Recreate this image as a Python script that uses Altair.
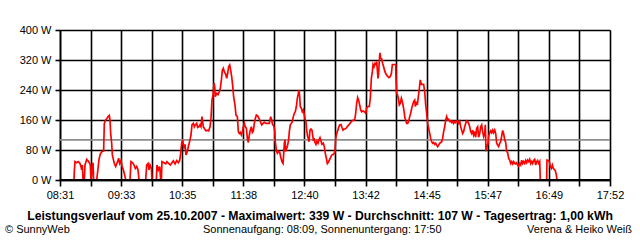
import altair as alt
import pandas as pd

# time of day in minutes since midnight, and power in W
minutes = [
    525.3, 525.6, 526.3, 528.0, 529.7, 531.4, 532.4, 533.1, 533.8, 534.5, 535.8, 536.5, 538.2, 539.6,
    540.9, 541.9, 542.6, 543.6, 544.7, 545.3, 548.4, 549.4, 550.8, 552.1, 553.8, 555.5, 556.2, 557.6,
    558.9, 560.0, 561.3, 562.0, 562.7, 563.7, 564.4, 565.4, 566.4, 567.8, 568.8, 569.8, 570.8, 571.9,
    573.2, 574.2, 575.6, 577.0, 578.0, 582.4, 583.4, 585.1, 586.5, 587.8, 589.2, 590.6, 591.6, 598.4,
    599.4, 600.8, 601.8, 602.8, 604.2, 604.8, 609.3, 609.9, 611.3, 612.7, 613.7, 614.4, 615.0, 617.1,
    618.8, 620.1, 621.8, 623.5, 625.2, 626.6, 628.3, 630.0, 631.7, 633.1, 634.1, 635.1, 636.1,
    637.5, 638.5, 639.5, 640.9, 641.9, 643.6, 644.6, 645.6, 647.0, 648.0, 649.0, 650.4, 651.4, 652.8,
    653.8, 654.8, 655.8, 657.2, 658.6, 659.9, 661.3, 662.6, 664.0, 665.0, 666.0, 667.1, 668.1, 668.8,
    669.4, 670.8, 672.2, 673.5, 674.5, 675.6, 676.6, 677.6, 678.6, 680.0, 681.0, 682.0, 683.0, 684.1,
    685.1, 686.1, 687.1, 688.1, 689.5, 690.5, 691.9, 692.9, 693.9, 694.9, 696.0, 697.0, 698.0, 699.0,
    700.0, 701.1, 702.1, 703.1, 704.1, 705.1, 706.2, 707.2, 708.2, 709.2, 710.2, 711.3, 712.6, 714.0,
    715.3, 716.7, 718.1, 719.4, 721.1, 722.8, 724.5, 725.9, 726.9, 727.9, 728.9, 730.0, 730.6, 731.7,
    732.7, 734.0, 735.1, 736.1, 737.4, 738.5, 739.1, 739.8, 740.5, 741.2, 742.2, 743.2, 744.2, 744.9,
    745.9, 747.0, 748.0, 749.0, 750.0, 751.0, 752.1, 753.1, 754.1, 754.8, 755.5, 756.1, 757.2, 758.2,
    759.2, 760.2, 761.2, 761.9, 762.6, 763.6, 764.6,
    765.0, 766.0, 767.0, 768.0, 768.7, 769.4, 770.4, 771.1, 772.1, 773.1, 774.2, 775.2, 776.2, 777.2,
    778.2, 779.6, 780.6, 781.6, 782.7, 783.7, 784.7, 785.7, 786.7, 787.8, 788.8, 790.1, 791.5, 792.2,
    793.2, 794.2, 795.2, 796.3, 797.6, 798.6, 799.7, 800.7, 802.0, 803.4, 804.8, 806.1, 807.5, 808.8,
    810.2, 811.6, 812.6, 813.6, 814.6, 815.6, 816.7, 817.7, 818.7, 820.1, 821.4, 822.8, 823.8, 825.2,
    826.5, 827.5, 828.6, 829.6, 830.3, 831.3, 832.3, 833.3, 834.0, 834.7, 835.4, 836.0, 836.7, 837.4,
    838.1, 839.1, 840.1, 841.1, 842.2, 843.2, 844.2, 845.2, 846.6, 847.9, 849.0, 850.0, 851.0, 852.4,
    853.4, 853.7, 854.4, 855.1, 856.1, 857.1, 858.1, 859.2, 859.8, 860.9, 861.9, 862.9, 863.6, 864.6,
    865.6, 866.6, 867.7, 868.7, 869.7, 870.7, 871.7, 872.8, 873.4, 874.5, 875.5, 876.5, 877.5, 878.5,
    879.6, 880.9, 881.9, 883.0, 884.0, 885.0, 886.0,
    888.1, 889.1, 890.1, 891.1, 892.1, 893.2, 894.2, 895.2, 896.2, 897.2, 898.3, 899.3, 900.3, 901.3,
    902.3, 903.4, 904.4, 905.4, 906.4, 907.4, 908.5, 909.5, 910.5, 911.5, 912.5, 913.6, 914.6, 915.6,
    916.6, 917.6, 918.7, 919.7, 920.7, 921.7, 922.7, 923.8, 924.8, 925.8, 926.8, 927.8, 928.9, 929.9,
    930.9, 931.9, 932.9, 934.0, 935.0, 936.0, 937.0, 938.0, 939.1, 940.1, 941.1, 942.1, 943.1, 944.2,
    944.8, 945.5, 946.2, 946.9, 947.6, 948.2, 949.3, 950.3, 951.3, 952.3, 953.3, 954.4, 955.4, 956.4,
    957.4, 958.4, 959.5, 960.5, 961.5, 962.5, 963.5, 964.6, 965.6, 966.6, 967.6, 968.6, 969.7, 970.7,
    971.7, 972.7, 973.7, 974.8, 975.8, 976.8, 977.8, 978.8, 979.9, 980.9, 981.9, 982.9, 983.9, 985.0,
    986.0, 987.0, 988.0, 989.0, 990.1, 991.1, 992.1, 993.1, 994.1, 995.2, 996.2, 997.2, 998.2, 999.2,
    1000.3, 1000.9, 1007.4, 1007.7, 1009.1, 1010.1, 1011.1, 1012.2, 1013.2, 1014.2, 1015.2, 1016.2,
    1017.3, 1017.9,
]
watts = [
    0, 24, 49, 46, 49, 44, 36, 27, 40, 0, 0, 40, 55, 51,
    46, 40, 0, 22, 46, 0, 0, 22, 55, 69, 76, 77, 151, 160,
    164, 169, 172, 160, 124, 98, 67, 55, 44, 36, 43, 49, 58, 44,
    52, 37, 27, 13, 0, 0, 49, 46, 40, 31, 36, 27, 0, 0,
    40, 44, 27, 40, 31, 0, 0, 40, 27, 36, 0, 0, 49, 46,
    43, 49, 44, 40, 46, 51, 43, 52, 46, 53, 71, 98, 107,
    84, 95, 67, 76, 89, 107, 120, 147, 151, 142, 147, 151, 140, 142,
    147, 142, 169, 142, 136, 131, 133, 131, 142, 164, 213, 227, 258, 249,
    222, 231, 228, 236, 244, 267, 293, 298, 289, 282, 271, 284, 302, 307,
    293, 276, 253, 222, 200, 173, 169, 129, 124, 127, 120, 129, 142, 151,
    142, 138, 111, 100, 120, 133, 142, 127, 131, 151, 164, 173, 171, 164,
    156, 147, 151, 154, 151, 151, 151, 169, 160, 147, 145, 133, 102, 80,
    71, 76, 74, 62, 49, 44, 67, 98, 107, 76, 84, 93, 107, 129,
    147, 151, 156, 169, 178, 182, 196, 218, 231, 240, 222, 196, 191, 182,
    187, 173, 160, 156, 133, 116, 107,
    102, 133, 136, 133, 120, 107, 109, 100, 95, 104, 98, 107, 113, 104,
    95, 98, 89, 71, 58, 44, 47, 53, 58, 65, 68, 68, 77, 111,
    124, 131, 140, 147, 148, 140, 133, 136, 136, 140, 145, 148, 154, 157,
    160, 160, 178, 204, 220, 213, 200, 187, 182, 184, 182, 178, 193, 196,
    196, 218, 271, 289, 308, 302, 311, 308, 316, 293, 271, 284, 320, 339,
    324, 323, 311, 302, 291, 284, 280, 276, 273, 276, 284, 308, 308, 308,
    308, 273, 231, 228, 218, 200, 204, 218, 213, 200, 184, 164, 160, 151,
    151, 156, 169, 178, 191, 200, 209, 213, 196, 209, 200, 222, 244, 267,
    255, 255, 255, 236, 200, 178, 151,
    124, 111, 102, 98, 100, 95, 98, 93, 89, 93, 98, 100, 102, 111,
    129, 142, 160, 169, 160, 162, 156, 158, 153, 156, 151, 156, 153, 157,
    158, 151, 156, 142, 133, 124, 129, 142, 151, 158, 156, 151, 142, 129,
    124, 133, 120, 129, 114, 138, 142, 114, 124, 142, 147, 129, 116, 124,
    147, 80, 82, 93, 98, 117, 126, 131, 126, 133, 126, 133, 124, 98,
    93, 89, 98, 102, 117, 132, 124, 107, 100, 76, 73, 58, 53, 44,
    49, 43, 49, 44, 43, 46, 40, 37, 44, 40, 53, 44, 49, 44,
    52, 46, 53, 49, 55, 44, 49, 44, 52, 55, 40, 49, 52, 44,
    49, 0, 0, 53, 52, 49, 36, 31, 40, 31, 28, 25,
    13, 0,
]

x_tick_labels = ["08:31", "09:33", "10:35", "11:38", "12:40", "13:42", "14:45", "15:47", "16:49", "17:52"]
y_ticks = [0, 80, 160, 240, 320, 400]
average_w = 107

title_text = ("Leistungsverlauf vom 25.10.2007 - Maximalwert: 339 W - Durchschnitt: 107 W"
              " - Tagesertrag: 1,00 kWh")
footer_left = "\u00a9 SunnyWeb"
footer_mid = "Sonnenaufgang: 08:09, Sonnenuntergang: 17:50"
footer_right = "Verena & Heiko Wei\u00df"

FONT = "Liberation Sans"


def to_min(s):
    h, m = s.split(":")
    return int(h) * 60 + int(m)


start = to_min(x_tick_labels[0])
end = to_min(x_tick_labels[-1])
n_grid = 2 * (len(x_tick_labels) - 1)
step = (end - start) / n_grid
grid_vals = [start + i * step for i in range(n_grid + 1)]

labels_js = "[" + ",".join("'%s'" % s for s in x_tick_labels) + "]"
x_label_expr = (
    "(round((datum.value - %f) / %f) %% 2 == 0) ? %s[round((datum.value - %f) / %f) / 2] : ''"
    % (start, step, labels_js, start, step)
)

df = pd.DataFrame({"minute": minutes, "watt": watts})

x_enc = alt.X(
    "minute:Q",
    scale=alt.Scale(domain=[start, end], nice=False, zero=False),
    axis=alt.Axis(
        values=grid_vals, labelExpr=x_label_expr, title=None, grid=True,
        gridColor="black", gridWidth=1.6, gridOpacity=1,
        domainColor="black", domainWidth=1.6, tickColor="black", tickWidth=1.6, tickSize=6,
        labelColor="black", labelFont=FONT, labelFontSize=11, labelPadding=3,
        labelFlush=False, labelOverlap=False,
    ),
)
y_scale = alt.Scale(domain=[0, 400], nice=False, zero=True)


def y_axis():
    return alt.Axis(
        values=y_ticks, labelExpr="datum.value + ' W'", title=None, grid=True,
        gridColor="black", gridWidth=1.6, gridOpacity=1,
        domainColor="black", domainWidth=1.6, tickColor="black", tickWidth=1.6, tickSize=5,
        labelColor="black", labelFont=FONT, labelFontSize=11, labelPadding=4,
        labelOverlap=False, labelFlush=False,
    )


line = alt.Chart(df).mark_line(color="#ff0000", strokeWidth=1.7, interpolate="linear").encode(
    x=x_enc,
    y=alt.Y("watt:Q", scale=y_scale, axis=y_axis()),
)

avg = alt.Chart(pd.DataFrame({"watt": [average_w]})).mark_rule(
    color="#8c8c8c", strokeWidth=1.6
).encode(y=alt.Y("watt:Q", scale=y_scale, axis=y_axis()))

zero = alt.Chart(pd.DataFrame({"watt": [0]})).mark_rule(
    color="black", strokeWidth=1.8
).encode(y=alt.Y("watt:Q", scale=y_scale, axis=y_axis()))


def text_layer(txt, x, y, align, bold=False, size=11):
    return alt.Chart(pd.DataFrame({"t": [txt]})).mark_text(
        align=align, baseline="middle", font=FONT, fontSize=size,
        fontWeight="bold" if bold else "normal", color="black",
    ).encode(text="t:N", x=alt.value(x), y=alt.value(y))


chart = alt.layer(
    avg,
    line,
    zero,
    text_layer(title_text, 260, 186, "center", bold=True, size=12.2),
    text_layer(footer_left, -55, 200, "left"),
    text_layer(footer_mid, 143, 200, "left"),
    text_layer(footer_right, 572, 200, "right"),
).properties(
    width=550,
    height=150,
    padding={"left": 60, "top": 30, "right": 30, "bottom": 60},
    autosize=alt.AutoSizeParams(type="none"),
    background="white",
).configure_view(stroke=None)

chart.save("out.html", embed_options={"renderer": "svg", "actions": False})
